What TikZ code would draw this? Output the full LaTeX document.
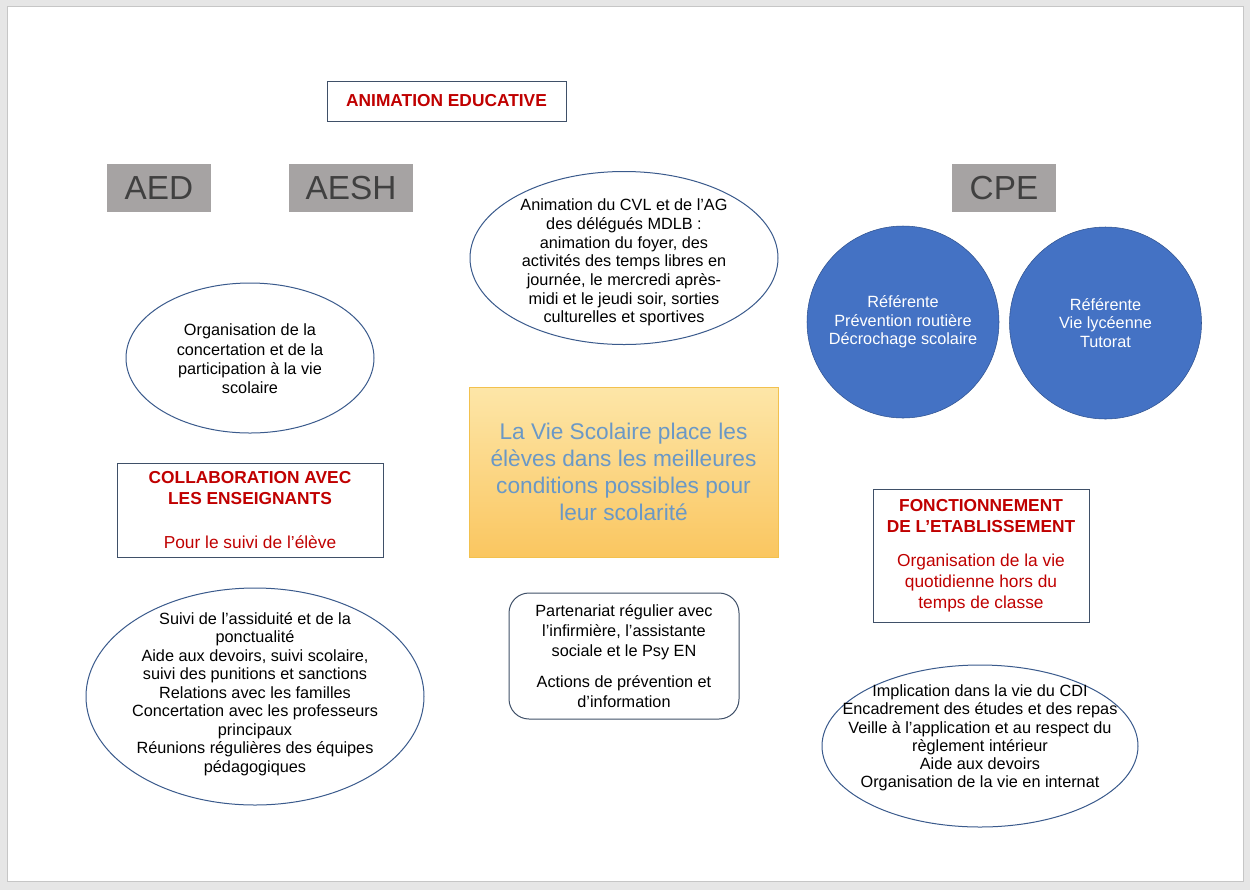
\documentclass[tikz,border=0pt]{standalone}
\usepackage{fontspec}
\setmainfont{Liberation Sans}
\usepackage{xcolor}
\usetikzlibrary{shapes.geometric}

\definecolor{pagegray}{HTML}{E6E6E6}
\definecolor{pageedge}{HTML}{C6C6C6}
\definecolor{rolegray}{HTML}{A6A3A3}
\definecolor{roletext}{HTML}{404040}
\definecolor{edgeblue}{HTML}{3A5A8C}
\definecolor{boxedge}{HTML}{3F5068}
\definecolor{darkred}{HTML}{C00000}
\definecolor{discblue}{HTML}{4472C4}
\definecolor{discedge}{HTML}{2F528F}
\definecolor{coretop}{HTML}{FDE6A8}
\definecolor{corebot}{HTML}{FAC660}
\definecolor{coreedge}{HTML}{F2C14E}
\definecolor{coretext}{HTML}{6A98C6}

\begin{document}
\begin{tikzpicture}[
  x=0.75pt, y=-0.75pt,
  font=\fontsize{12.2}{14}\selectfont,
  role/.style={fill=rolegray, text=roletext, inner sep=0pt,
               font=\fontsize{25}{30}\selectfont, minimum height=36pt},
  bubble/.style={draw=edgeblue, line width=0.75pt, ellipse, inner sep=0pt},
  bubtext/.style={align=center, text=black},
  disc/.style={draw=discedge, fill=discblue, circle, minimum size=144pt,
               inner sep=0pt, text=white, align=center},
  titlebox/.style={draw=boxedge, line width=0.75pt, inner sep=0pt,
                   align=center, text=darkred,
                   font=\fontsize{13}{15.75}\selectfont},
  core/.style={draw=coreedge, top color=coretop, bottom color=corebot,
               minimum width=231.75pt, minimum height=127.5pt, inner sep=0pt,
               align=center, text=coretext,
               font=\fontsize{17}{20.25}\selectfont},
]
% page
\fill[pagegray] (0,0) rectangle (1250,890);
\draw[pageedge, fill=white] (7,6) rectangle (1243,881);

% roles
\node[role, minimum width=78pt] (aed)  at (159,188)  {AED};
\node[role, minimum width=93pt] (aesh) at (351,188)  {AESH};
\node[role, minimum width=78pt] (cpe)  at (1004,188) {CPE};

% Top: animation educative
\node[titlebox, minimum width=179.25pt, minimum height=30pt] (anim) at (446.5,101)
     {\textbf{ANIMATION EDUCATIVE}};
\node[bubble, minimum width=231pt, minimum height=129.75pt] (cvl) at (624,258) {};
\node[bubtext] at (624,262.5) {Animation du CVL et de l’AG\\des délégués MDLB :\\animation du foyer, des\\activités des temps libres en\\journée, le mercredi après-\\midi et le jeudi soir, sorties\\culturelles et sportives};

% Left: AED / AESH side
\node[bubble, minimum width=186pt, minimum height=112.5pt] (concert) at (250,358) {};
\node[bubtext, font=\fontsize{12.2}{14.5}\selectfont] at (250,359)
     {Organisation de la\\concertation et de la\\participation à la vie\\scolaire};
\node[titlebox, minimum width=199.5pt, minimum height=70.5pt] (collab) at (250,510)
     {\textbf{COLLABORATION AVEC}\\\textbf{LES ENSEIGNANTS}\\[17pt]Pour le suivi de l’élève};
\node[bubble, minimum width=253.5pt, minimum height=162.75pt] (suivi) at (255,696.5) {};
\node[bubtext, font=\fontsize{12.2}{13.9}\selectfont] at (255,694)
     {Suivi de l’assiduité et de la\\ponctualité\\Aide aux devoirs, suivi scolaire,\\suivi des punitions et sanctions\\Relations avec les familles\\Concertation avec les professeurs\\principaux\\Réunions régulières des équipes\\pédagogiques};

% Centre
\node[core] (vie) at (623.5,472)
     {La Vie Scolaire place les\\élèves dans les meilleures\\conditions possibles pour\\leur scolarité};
\node[draw=boxedge, line width=0.75pt, rounded corners=15pt, minimum width=172.5pt,
      minimum height=94.5pt, inner sep=0pt, align=center,
      font=\fontsize{12.2}{15}\selectfont] (parten) at (624,656)
     {Partenariat régulier avec\\l’infirmière, l’assistante\\sociale et le Psy EN\\[8pt]Actions de prévention et\\d’information};

% Right: CPE side
\node[disc] (ref1) at (903,322) {Référente\\Prévention routière\\Décrochage scolaire};
\node[disc] (ref2) at (1105.5,323) {Référente\\Vie lycéenne\\Tutorat};
\node[titlebox, minimum width=162pt, minimum height=99.75pt] (fonct) at (981,555.5)
     {\textbf{FONCTIONNEMENT}\\\textbf{DE L’ETABLISSEMENT}\\[10pt]Organisation de la vie\\quotidienne hors du\\temps de classe};
\node[bubble, minimum width=237pt, minimum height=121.5pt] (cdi) at (980,746) {};
\node[bubtext, font=\fontsize{12.2}{13.7}\selectfont] at (980,738)
     {Implication dans la vie du CDI\\Encadrement des études et des repas\\Veille à l’application et au respect du\\règlement intérieur\\Aide aux devoirs\\Organisation de la vie en internat};

\end{tikzpicture}
\end{document}
